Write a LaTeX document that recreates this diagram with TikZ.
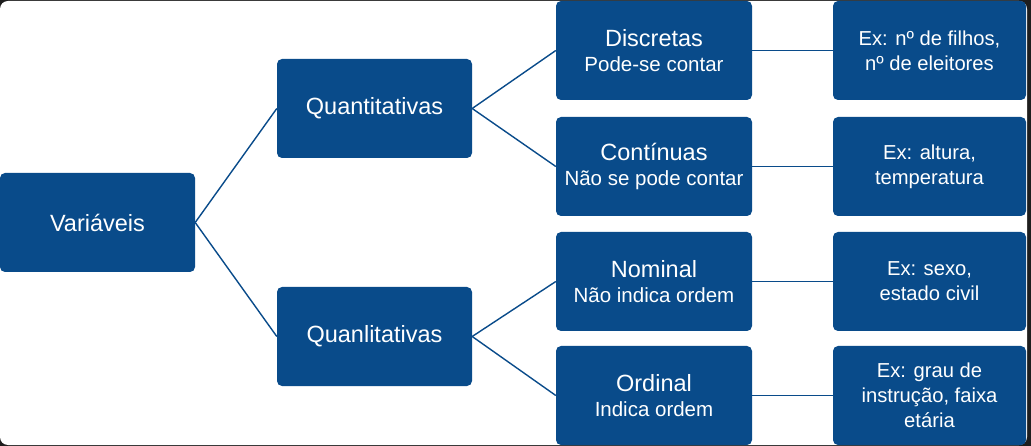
\documentclass[tikz,border=0pt]{standalone}
\usepackage{fontspec}
\setmainfont{Liberation Sans}
\definecolor{boxblue}{RGB}{9,75,138}
\definecolor{frame}{RGB}{30,30,30}
\tikzset{
  box/.style={draw=none, fill=boxblue, rounded corners=5pt, text=white, align=center,
    inner sep=0pt, minimum height=99pt, minimum width=195pt, font=\fontsize{23.5}{25.5}\selectfont},
  exbox/.style={box, minimum width=193pt, font=\fontsize{20.2}{25}\selectfont},
  link/.style={draw=boxblue, line width=1.4pt},
}
\newcommand{\sub}[1]{{\fontsize{20.5}{25}\selectfont #1}}
\begin{document}
\begin{tikzpicture}[x=1pt,y=-1pt]
\fill[frame] (0,0) rectangle (1031,446);
\fill[white, rounded corners=8pt] (0,1) rectangle (1027,445);
\useasboundingbox (0,0) rectangle (1031,446);
\node[box] (V) at (97.5,222.5) {Variáveis};
\node[box] (Qt) at (374.5,108.5) {Quantitativas};
\node[box] (Ql) at (374.5,336.5) {Quanlitativas};
\node[box, minimum width=196pt] (D) at (654,50.5) {Discretas\\\sub{Pode-se contar}};
\node[box, minimum width=196pt] (C) at (654,166.5) {Contínuas\\\sub{Não se pode contar}};
\node[box, minimum width=196pt] (N) at (654,281.5) {Nominal\\\sub{Não indica ordem}};
\node[box, minimum width=196pt] (O) at (654,395.5) {Ordinal\\\sub{Indica ordem}};
\node[exbox] (E1) at (929.5,50.5) {Ex: nº de filhos,\\nº de eleitores};
\node[exbox] (E2) at (929.5,166.5) {Ex: altura,\\temperatura};
\node[exbox] (E3) at (929.5,281.5) {Ex: sexo,\\estado civil};
\node[exbox] (E4) at (929.5,395.5) {Ex: grau de\\instrução, faixa\\etária};
\draw[link] (V.east) -- (Qt.west);
\draw[link] (V.east) -- (Ql.west);
\draw[link] (Qt.east) -- (D.west);
\draw[link] (Qt.east) -- (C.west);
\draw[link] (Ql.east) -- (N.west);
\draw[link] (Ql.east) -- (O.west);
\draw[link] (D) -- (E1);
\draw[link] (C) -- (E2);
\draw[link] (N) -- (E3);
\draw[link] (O) -- (E4);
\end{tikzpicture}
\end{document}
